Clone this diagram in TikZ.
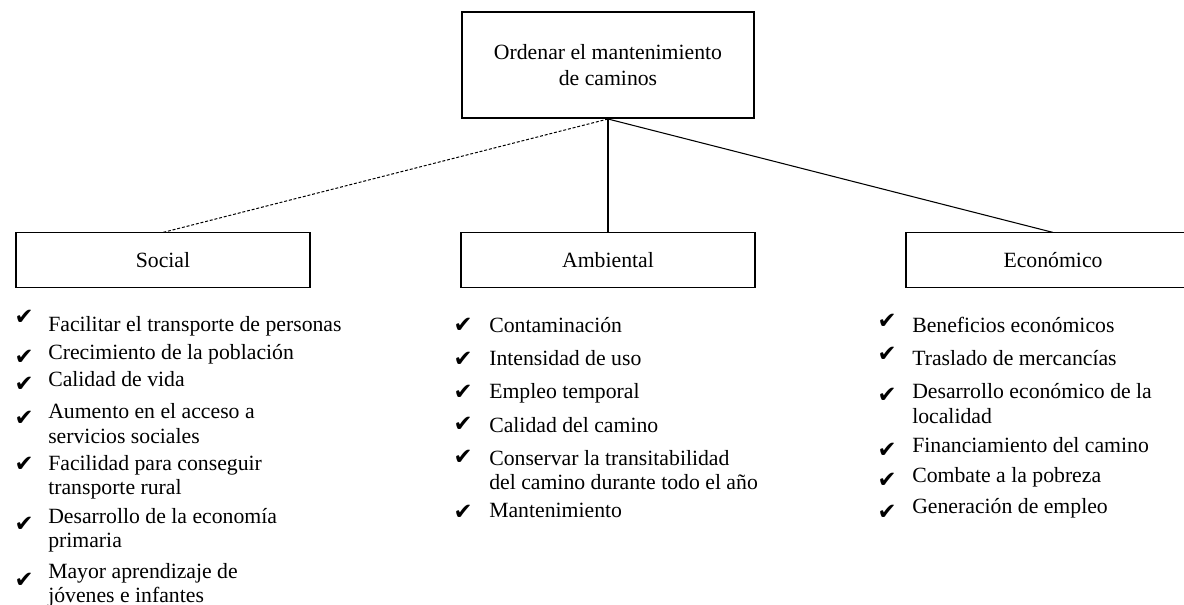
\documentclass[tikz,border=0pt]{standalone}
\usepackage{fontspec}
\setmainfont{Liberation Serif}
\newfontfamily\sym{DejaVu Sans}
\newcommand\lst[1]{\begin{tabular}[t]{@{}l@{}}#1\end{tabular}}
\tikzset{
  topbox/.style={rectangle,draw,line width=1.5pt,minimum width=219pt,minimum height=79.5pt,align=center,font=\fontsize{16.3pt}{20pt}\selectfont},
  catbox/.style={rectangle,draw,line width=0.8pt,minimum width=220.5pt,minimum height=41.25pt,font=\fontsize{16.3pt}{19pt}\selectfont},
  item/.style={anchor=base west,inner sep=0pt,font=\fontsize{16.3pt}{18pt}\selectfont},
  chk/.style={inner sep=0pt,font=\sym\fontsize{17pt}{17pt}\selectfont}
}
\begin{document}
\begin{tikzpicture}[x=0.75pt,y=-0.75pt,level distance=146.6pt,sibling distance=333.75pt,
  edge from parent path={(\tikzparentnode.south) -- (\tikzchildnode.north)}]
\clip (0,0) rectangle (1184,605);
\node [topbox] (root) at (608,65) {Ordenar el mantenimiento\\de caminos}
    child {node [catbox] (soc) {Social}
        edge from parent [draw,line width=0.75pt,dash pattern=on 2.2pt off 1.4pt]}
    child {node [catbox] (amb) {Ambiental}
        edge from parent [draw,line width=1.6pt]}
    child {node [catbox] (eco) {Económico}
        edge from parent [draw,line width=0.8pt]};
% social
\foreach \t/\y [count=\i] in {{Facilitar el transporte de personas}/332,{Crecimiento de la población}/360,
    {Calidad de vida}/387,{Aumento en el acceso a\\servicios sociales}/419,
    {Facilidad para conseguir\\transporte rural}/470,{Desarrollo de la economía\\primaria}/523,
    {Mayor aprendizaje de\\jóvenes e infantes}/578}
  \node [item] (s\i) at (48,\y) {\lst{\t}};
\foreach \y [count=\i] in {317,357,384,418,464,524,580}
  \node [chk] (sc\i) at (24,\y) {✔};
% ambiental
\foreach \t/\y [count=\i] in {Contaminación/333,{Intensidad de uso}/366,{Empleo temporal}/399,
    {Calidad del camino}/432,{Conservar la transitabilidad\\del camino durante todo el año}/465,
    Mantenimiento/517}
  \node [item] (a\i) at (489,\y) {\lst{\t}};
\foreach \y [count=\i] in {325,359,392,424,457,512}
  \node [chk] (ac\i) at (463,\y) {✔};
% economico
\foreach \t/\y [count=\i] in {{Beneficios económicos}/333,{Traslado de mercancías}/366,
    {Desarrollo económico de la\\localidad}/399,{Financiamiento del camino}/452,
    {Combate a la pobreza}/482,{Generación de empleo}/513}
  \node [item] (e\i) at (912,\y) {\lst{\t}};
\foreach \y [count=\i] in {321,354,395,450,480,512}
  \node [chk] (ec\i) at (887,\y) {✔};
\end{tikzpicture}
\end{document}
